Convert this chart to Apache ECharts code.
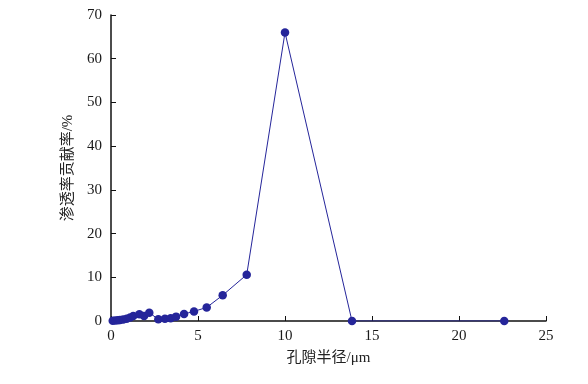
<!DOCTYPE html>
<html><head><meta charset="utf-8">
<script src="https://cdn.jsdelivr.net/npm/echarts@6/dist/echarts.min.js"></script>
<style>html,body{margin:0;padding:0;background:#fff}#c{width:588px;height:384px}</style>
</head><body><div id="c"></div>
<script>
var poreRadius = [0.1, 0.25, 0.4, 0.52, 0.7, 0.9, 1.1, 1.28, 1.63, 1.9, 2.2, 2.72, 3.1, 3.43, 3.74, 4.2, 4.77, 5.5, 6.42, 7.8, 10.0, 13.85, 22.6];
var contribution = [0.05, 0.1, 0.15, 0.23, 0.35, 0.53, 0.8, 1.14, 1.53, 1.14, 1.9, 0.39, 0.53, 0.62, 1.0, 1.6, 2.2, 3.1, 5.9, 10.6, 66.0, 0, 0];
var xName = '孔隙半径/μm';
var yName = '渗透率贡献率/%';
var data = poreRadius.map(function(x,i){return [x, contribution[i]];});
var font = '"Liberation Serif", "Noto Sans CJK SC", serif';
var chart = echarts.init(document.getElementById('c'));
chart.setOption({
  animation:false,
  grid:{left:111,right:42,top:15,bottom:63},
  xAxis:{type:'value',min:0,max:25,interval:5,
    name:xName,nameLocation:'middle',nameGap:30,
    nameTextStyle:{fontFamily:font,fontSize:15,color:'#222'},
    axisLine:{lineStyle:{color:'#111',width:1.5}},
    axisTick:{inside:true,length:5,lineStyle:{color:'#111'}},
    axisLabel:{fontFamily:font,fontSize:15,color:'#1a1a1a',margin:8},
    splitLine:{show:false}},
  yAxis:{type:'value',min:0,max:70,interval:10,
    name:yName,nameLocation:'middle',nameGap:35,
    nameTextStyle:{fontFamily:font,fontSize:15,color:'#222'},
    axisLine:{show:true,lineStyle:{color:'#111',width:1.5}},
    axisTick:{show:true,inside:true,length:5,lineStyle:{color:'#111'}},
    axisLabel:{fontFamily:font,fontSize:15,color:'#1a1a1a',margin:9},
    splitLine:{show:false}},
  series:[{type:'line',data:data,symbol:'circle',symbolSize:8.5,
    lineStyle:{color:'#25259a',width:1},itemStyle:{color:'#25259a'}}]
});
</script></body></html>
